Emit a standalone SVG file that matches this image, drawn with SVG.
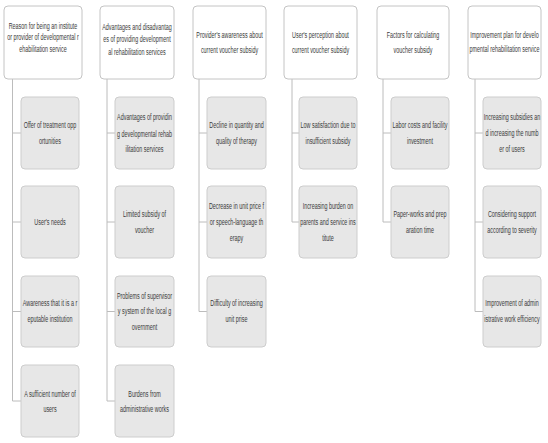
<svg xmlns="http://www.w3.org/2000/svg" width="548" height="443" viewBox="0 0 548 443">
<style>
.hd{fill:#ffffff;stroke:#c4c4c4;stroke-width:1}
.ch{fill:#e7e7e7;stroke:#cdcdcd;stroke-width:1}
.conn{fill:none;stroke:#bcbcbc;stroke-width:1}
text{font-family:"Liberation Sans",Arial,sans-serif;font-size:9px;fill:#3a3a3a;text-anchor:middle}
</style>
<rect width="548" height="443" fill="#ffffff"/>
<g id="connectors">
<path class="conn" d="M12.5 79V401H21M12.5 133H21M12.5 222H21M12.5 311.5H21"/>
<path class="conn" d="M107 79V401H115M107 133H115M107 222H115M107 311.5H115"/>
<path class="conn" d="M199 79V311.5H207M199 133H207M199 222H207"/>
<path class="conn" d="M292 79V222H299M292 133H299"/>
<path class="conn" d="M383 79V222H391M383 133H391"/>
<path class="conn" d="M475 79V311.5H483M475 133H483M475 222H483"/>
</g>
<g id="h1"><rect class="hd" x="4" y="6" width="78" height="73" rx="4"/>
<g transform="translate(43 0) scale(0.6 1)"><text x="0" y="29">Reason for being an institute</text><text x="0" y="40.5">or provider of developmental r</text><text x="0" y="52">ehabilitation service</text></g></g>
<g id="h2"><rect class="hd" x="100" y="6" width="74" height="73" rx="4"/>
<g transform="translate(137 0) scale(0.6 1)"><text x="0" y="30">Advantages and disadvantag</text><text x="0" y="42.5">es of providing development</text><text x="0" y="55">al rehabilitation services</text></g></g>
<g id="h3"><rect class="hd" x="193" y="6" width="73" height="73" rx="4"/>
<g transform="translate(229.5 0) scale(0.6 1)"><text x="0" y="38">Provider's awareness about</text><text x="0" y="53">current voucher subsidy</text></g></g>
<g id="h4"><rect class="hd" x="284" y="6" width="73" height="73" rx="4"/>
<g transform="translate(320.5 0) scale(0.6 1)"><text x="0" y="38">User's perception about</text><text x="0" y="53">current voucher subsidy</text></g></g>
<g id="h5"><rect class="hd" x="377" y="6" width="72" height="73" rx="4"/>
<g transform="translate(413 0) scale(0.6 1)"><text x="0" y="38">Factors for calculating</text><text x="0" y="53">voucher subsidy</text></g></g>
<g id="h6"><rect class="hd" x="468" y="6" width="73" height="73" rx="4"/>
<g transform="translate(504.5 0) scale(0.6 1)"><text x="0" y="38">Improvement plan for develo</text><text x="0" y="52.5">pmental rehabilitation service</text></g></g>

<g id="c1a"><rect class="ch" x="21" y="97" width="58" height="72" rx="4"/>
<g transform="translate(50 0) scale(0.6 1)"><text x="0" y="128">Offer of treatment opp</text><text x="0" y="144.5">ortunities</text></g></g>
<g id="c1b"><rect class="ch" x="21" y="186" width="58" height="72" rx="4"/>
<g transform="translate(50 0) scale(0.6 1)"><text x="0" y="225">User's needs</text></g></g>
<g id="c1c"><rect class="ch" x="21" y="276" width="58" height="71" rx="4"/>
<g transform="translate(50 0) scale(0.6 1)"><text x="0" y="306.5">Awareness that it is a r</text><text x="0" y="322.5">eputable institution</text></g></g>
<g id="c1d"><rect class="ch" x="21" y="365" width="58" height="72" rx="4"/>
<g transform="translate(50 0) scale(0.6 1)"><text x="0" y="397">A sufficient number of</text><text x="0" y="412.5">users</text></g></g>

<g id="c2a"><rect class="ch" x="115" y="97" width="59" height="72" rx="4"/>
<g transform="translate(144.5 0) scale(0.6 1)"><text x="0" y="120.5">Advantages of providin</text><text x="0" y="137">g developmental rehab</text><text x="0" y="152.5">ilitation services</text></g></g>
<g id="c2b"><rect class="ch" x="115" y="186" width="59" height="72" rx="4"/>
<g transform="translate(144.5 0) scale(0.6 1)"><text x="0" y="217.5">Limited subsidy of</text><text x="0" y="233.5">voucher</text></g></g>
<g id="c2c"><rect class="ch" x="115" y="276" width="59" height="71" rx="4"/>
<g transform="translate(144.5 0) scale(0.6 1)"><text x="0" y="299">Problems of supervisor</text><text x="0" y="314.5">y system of the local g</text><text x="0" y="330">overnment</text></g></g>
<g id="c2d"><rect class="ch" x="115" y="365" width="59" height="72" rx="4"/>
<g transform="translate(144.5 0) scale(0.6 1)"><text x="0" y="397">Burdens from</text><text x="0" y="412.5">administrative works</text></g></g>

<g id="c3a"><rect class="ch" x="207" y="97" width="59" height="72" rx="4"/>
<g transform="translate(236.5 0) scale(0.6 1)"><text x="0" y="128">Decline in quantity and</text><text x="0" y="144.5">quality of therapy</text></g></g>
<g id="c3b"><rect class="ch" x="207" y="186" width="59" height="72" rx="4"/>
<g transform="translate(236.5 0) scale(0.6 1)"><text x="0" y="209.5">Decrease in unit price f</text><text x="0" y="225.5">or speech-language th</text><text x="0" y="241.5">erapy</text></g></g>
<g id="c3c"><rect class="ch" x="207" y="276" width="59" height="71" rx="4"/>
<g transform="translate(236.5 0) scale(0.6 1)"><text x="0" y="306.5">Difficulty of increasing</text><text x="0" y="322.5">unit prise</text></g></g>

<g id="c4a"><rect class="ch" x="299" y="97" width="58" height="72" rx="4"/>
<g transform="translate(328 0) scale(0.6 1)"><text x="0" y="128">Low satisfaction due to</text><text x="0" y="144.5">insufficient subsidy</text></g></g>
<g id="c4b"><rect class="ch" x="299" y="186" width="58" height="72" rx="4"/>
<g transform="translate(328 0) scale(0.6 1)"><text x="0" y="209.5">Increasing burden on</text><text x="0" y="225.5">parents and service ins</text><text x="0" y="241.5">titute</text></g></g>

<g id="c5a"><rect class="ch" x="391" y="97" width="58" height="72" rx="4"/>
<g transform="translate(420 0) scale(0.6 1)"><text x="0" y="128">Labor costs and facility</text><text x="0" y="144.5">investment</text></g></g>
<g id="c5b"><rect class="ch" x="391" y="186" width="58" height="72" rx="4"/>
<g transform="translate(420 0) scale(0.6 1)"><text x="0" y="217.5">Paper-works and prep</text><text x="0" y="233.5">aration time</text></g></g>

<g id="c6a"><rect class="ch" x="483" y="97" width="58" height="72" rx="4"/>
<g transform="translate(512 0) scale(0.6 1)"><text x="0" y="120">Increasing subsidies an</text><text x="0" y="136.5">d increasing the numb</text><text x="0" y="152">er of users</text></g></g>
<g id="c6b"><rect class="ch" x="483" y="186" width="58" height="72" rx="4"/>
<g transform="translate(512 0) scale(0.6 1)"><text x="0" y="217.5">Considering support</text><text x="0" y="233.5">according to severity</text></g></g>
<g id="c6c"><rect class="ch" x="483" y="276" width="58" height="71" rx="4"/>
<g transform="translate(512 0) scale(0.6 1)"><text x="0" y="306.5">Improvement of admin</text><text x="0" y="322.5">istrative work efficiency</text></g></g>
</svg>
